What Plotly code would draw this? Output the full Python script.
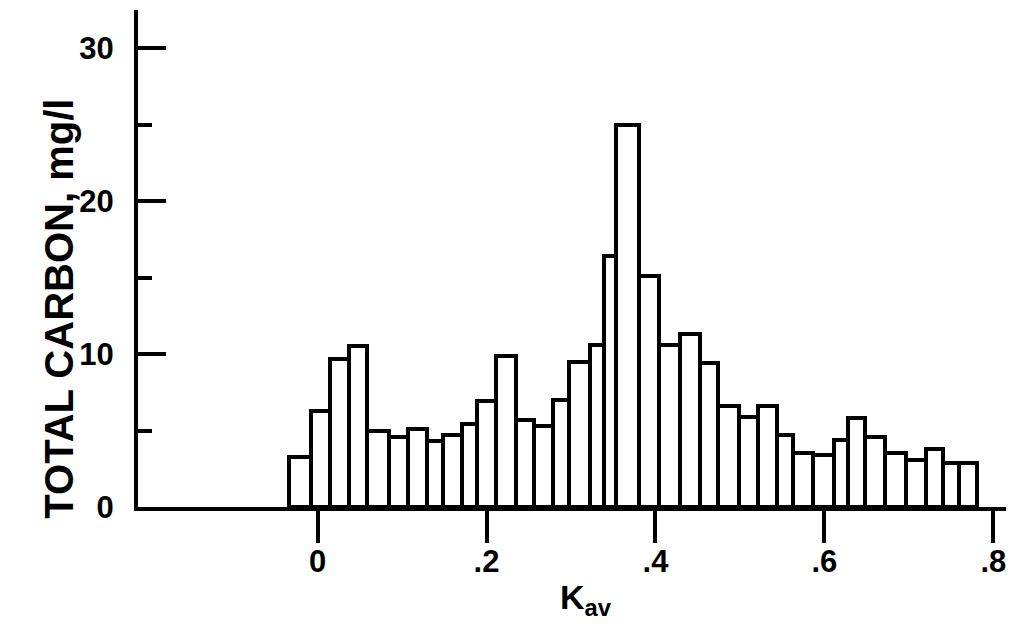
import plotly.graph_objects as go

# Bin edges along K_av (37 bins)
kav_edges = [-0.034, -0.008, 0.015, 0.037, 0.059, 0.084, 0.107, 0.129, 0.149,
             0.171, 0.189, 0.211, 0.235, 0.256, 0.279, 0.298, 0.322, 0.339,
             0.353, 0.381, 0.404, 0.429, 0.453, 0.474, 0.499, 0.521, 0.544,
             0.563, 0.587, 0.611, 0.628, 0.648, 0.672, 0.697, 0.720, 0.741,
             0.759, 0.781]

# Total carbon, mg/l, per bin
total_carbon = [3.3, 6.3, 9.7, 10.5, 5.0, 4.6, 5.1, 4.3, 4.7, 5.4, 6.9, 9.9,
                5.7, 5.3, 7.0, 9.5, 10.6, 16.4, 25.0, 15.1, 10.6, 11.3, 9.4,
                6.6, 5.9, 6.6, 4.7, 3.5, 3.4, 4.4, 5.8, 4.6, 3.5, 3.1, 3.8,
                2.9, 2.9]

x_tickvals = [0, 0.2, 0.4, 0.6, 0.8]
x_ticktext = ["0", ".2", ".4", ".6", ".8"]
y_tickvals = [0, 10, 20, 30]
y_ticktext = ["0", "10", "20", "30"]

centers = [(a + b) / 2 for a, b in zip(kav_edges[:-1], kav_edges[1:])]
widths = [b - a for a, b in zip(kav_edges[:-1], kav_edges[1:])]

FONT = "Liberation Sans"

fig = go.Figure()
fig.add_trace(go.Bar(
    x=centers, y=total_carbon, width=widths,
    marker=dict(color="white", line=dict(color="black", width=4)),
    showlegend=False,
))

fig.update_layout(
    width=1029, height=634,
    paper_bgcolor="white", plot_bgcolor="white",
    margin=dict(l=130, r=31, t=2, b=135),
    font=dict(family=FONT, color="black", size=31, weight="bold"),
    bargap=0,
)

fig.update_xaxes(
    range=[-0.2126, 0.815],
    showline=True, linecolor="black", linewidth=4,
    showgrid=False, zeroline=False,
    ticks="outside", ticklen=32, tickwidth=4, tickcolor="black",
    tickvals=x_tickvals, ticktext=x_ticktext,
    ticklabelstandoff=-8,
    tickfont=dict(family=FONT, size=31, color="black", weight="bold"),
)

fig.update_yaxes(
    range=[0, 32.5],
    showline=True, linecolor="black", linewidth=4,
    showgrid=False, zeroline=False,
    ticks="inside", ticklen=28, tickwidth=3.5, tickcolor="black",
    tickvals=y_tickvals, ticktext=y_ticktext,
    ticklabelstandoff=14,
    minor=dict(ticks="inside", ticklen=14, tickwidth=3.5, tickcolor="black",
               dtick=5, showgrid=False),
    tickfont=dict(family=FONT, size=31, color="black", weight="bold"),
)

# axis titles
fig.add_annotation(
    text="TOTAL CARBON, mg/l", textangle=-90,
    xref="paper", yref="paper", x=-0.0905, y=0.400,
    xanchor="center", yanchor="middle", showarrow=False,
    font=dict(family=FONT, size=40, color="black", weight="bold"),
)
fig.add_annotation(
    text="K<sub>av</sub>",
    xref="x", yref="paper", x=0.318, y=-0.187,
    xanchor="center", yanchor="middle", showarrow=False,
    font=dict(family=FONT, size=34, color="black", weight="bold"),
)

fig.write_html("out.html")
